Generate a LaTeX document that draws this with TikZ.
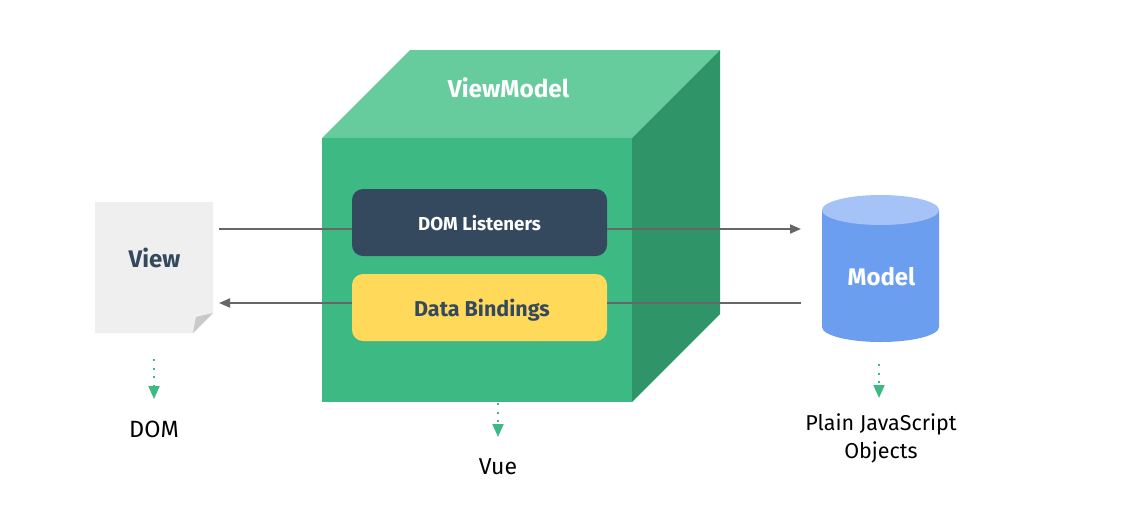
\documentclass[tikz,border=0pt]{standalone}
\usepackage{fontspec}
\setmainfont{Fira Sans}
\usetikzlibrary{arrows.meta}
\definecolor{cfront}{HTML}{3DBA84}
\definecolor{ctop}{HTML}{66CB9D}
\definecolor{cside}{HTML}{2F9569}
\definecolor{cnavy}{HTML}{34495E}
\definecolor{cyellow}{HTML}{FFD95A}
\definecolor{cblue}{HTML}{6C9EF0}
\definecolor{cbluetop}{HTML}{A5C3F7}
\definecolor{cpaper}{HTML}{EFEFEF}
\definecolor{cfold}{HTML}{C9C9C9}
\definecolor{cline}{HTML}{666666}
\tikzset{
  x=1pt,y=-1pt,
  innerbox/.style={rounded corners=11pt,minimum width=255pt,minimum height=67pt,inner sep=0pt,font=\bfseries},
  flow/.style={draw=cline,line width=1.9pt},
  flowtip/.style={flow,-{Triangle[length=11pt,width=9pt,fill=cline]}},
  dotarrow/.style={draw=cfront,line width=2pt,dash pattern=on 2pt off 6.6pt,-{Triangle[length=13pt,width=11pt,fill=cfront,sep=3pt]}},
  caption/.style={inner sep=0pt,font=\fontsize{23.5}{27}\selectfont,text=black,align=center},
  boldlabel/.style={inner sep=0pt,font=\fontsize{24}{27}\selectfont\bfseries}
}
\begin{document}
\begin{tikzpicture}
\useasboundingbox (0,0) rectangle (1139,512);
% cube
\fill[ctop] (322,138) -- (410,50) -- (720,50) -- (632,138) -- cycle;
\fill[cside] (632,138) -- (720,50) -- (720,314) -- (632,402) -- cycle;
\node[fill=cfront,minimum width=310pt,minimum height=264pt,inner sep=0pt] (vm) at (477,270) {};
\node[boldlabel,text=white,font=\fontsize{24.4}{27}\selectfont\bfseries] (vmlabel) at (508.5,88) {ViewModel};
% inner boxes
\node[innerbox,fill=cnavy,text=white,font=\fontsize{18.7}{22}\selectfont\bfseries] (dom) at (479.5,222.5) {\raisebox{-1pt}[\height][\depth]{DOM Listeners}};
\node[innerbox,fill=cyellow,text=cnavy,font=\fontsize{21.5}{26}\selectfont\bfseries] (bind) at (479.5,307.5) {\raisebox{-2.5pt}[\height][\depth]{\hspace{5pt}Data Bindings}};
% view page
\fill[cpaper] (95,202) -- (213,202) -- (213,313) -- (193,333) -- (95,333) -- cycle;
\fill[cfold] (213,313) -- (193,333) -- (196,317) -- cycle;
\node[boldlabel,text=cnavy] (view) at (154.5,258) {View};
% model cylinder
\fill[cblue] (822,210) -- (822,327) arc[start angle=180,end angle=360,x radius=58.5pt,y radius=15pt] -- (939,210) -- cycle;
\fill[cbluetop] (880.5,210) ellipse[x radius=58.5pt,y radius=15pt];
\node[boldlabel,text=white] (model) at (881.5,277) {Model};
% connector ends
\coordinate (viewout) at (219,229);
\coordinate (viewin) at (219,303);
\coordinate (modelin) at (801,229);
\coordinate (modelout) at (801,303);
\coordinate (domleft) at (dom.west |- viewout);
\coordinate (domright) at (dom.east |- viewout);
\coordinate (bindleft) at (bind.west |- viewin);
\coordinate (bindright) at (bind.east |- viewin);
\draw[flow] (viewout) -- (domleft);
\draw[flowtip] (domright) -- (modelin);
\draw[flow] (modelout) -- (bindright);
\draw[flowtip] (bindleft) -- (viewin);
% captions
\node[caption] (domcap) at (154,429.5) {DOM};
\node[caption,font=\fontsize{23}{27}\selectfont] (vuecap) at (498,467) {Vue};
\node[caption,anchor=north,font=\fontsize{21.5}{28}\selectfont] (modelcap) at (881,413.5) {Plain JavaScript\\Objects};
\coordinate (viewdot) at (154,359);
\coordinate (vuedot) at (498,403);
\coordinate (modeldot) at (879,364);
\coordinate (viewtip) at (154,402);
\coordinate (vuetip) at (498,440);
\coordinate (modeltip) at (879,401);
\draw[dotarrow] (viewdot) -- (viewtip);
\draw[dotarrow] (vuedot) -- (vuetip);
\draw[dotarrow] (modeldot) -- (modeltip);
\end{tikzpicture}
\end{document}
